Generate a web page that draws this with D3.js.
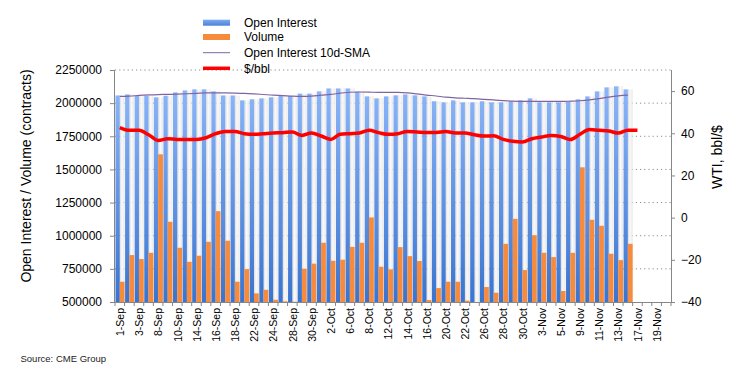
<!DOCTYPE html>
<html>
<head>
<meta charset="utf-8">
<script src="https://cdn.jsdelivr.net/npm/d3@7"></script>
<style>
  body { margin: 0; background: #fff; }
  svg { font-family: Arial, "Liberation Sans", sans-serif; }
  .axis path, .axis line { stroke: #868686; }
  .axis text { fill: #000; }
</style>
</head>
<body>
<div id="chart"></div>
<script>
// trading days on the category axis
const dates = ['1-Sep','2-Sep','3-Sep','4-Sep','8-Sep','9-Sep','10-Sep','11-Sep','14-Sep','15-Sep',
  '16-Sep','17-Sep','18-Sep','21-Sep','22-Sep','23-Sep','24-Sep','25-Sep','28-Sep','29-Sep',
  '30-Sep','1-Oct','2-Oct','5-Oct','6-Oct','7-Oct','8-Oct','9-Oct','12-Oct','13-Oct',
  '14-Oct','15-Oct','16-Oct','19-Oct','20-Oct','21-Oct','22-Oct','23-Oct','26-Oct','27-Oct',
  '28-Oct','29-Oct','30-Oct','2-Nov','3-Nov','4-Nov','5-Nov','6-Nov','9-Nov','10-Nov',
  '11-Nov','12-Nov','13-Nov','16-Nov','17-Nov','18-Nov','19-Nov','20-Nov'];

// open interest (thousand contracts)
const openInterest = [2058,2066,2056,2056,2044,2056,2081,2096,2104,2104,
  2089,2058,2058,2021,2029,2036,2044,2054,2054,2072,
  2072,2089,2111,2111,2111,2087,2051,2036,2051,2059,
  2066,2059,2051,2014,2006,2021,2006,2006,2014,2006,
  2006,2014,2021,2036,2006,2006,2006,2014,2029,2051,
  2089,2119,2127,2104];

// volume (thousand contracts)
const volume = [653,854,824,871,1614,1105,909,803,849,954,
  1185,962,653,748,565,592,517,505,502,751,
  789,947,811,819,916,947,1138,766,746,914,
  846,809,515,605,653,653,510,500,613,570,
  939,1127,741,1004,871,839,583,871,1516,1120,
  1075,864,816,939];

// open interest 10d SMA (thousand contracts)
const oiSma = [2051,2053,2058,2062,2065,2066,2068,2071,2074,2077,
  2077,2077,2076,2074,2070,2065,2060,2057,2053,2051,
  2053,2060,2066,2075,2082,2084,2083,2081,2081,2081,
  2078,2070,2061,2054,2045,2040,2037,2034,2029,2024,
  2019,2015,2013,2013,2013,2013,2013,2015,2018,2024,
  2034,2046,2055,2060];

// WTI $/bbl
const price = [42.7,41.4,41.4,39.3,36.6,37.4,37.1,37.1,37.1,37.9,
  39.8,40.9,40.9,39.8,39.5,39.8,40.1,40.3,40.6,39.0,
  40.1,38.7,37.1,39.5,39.8,40.1,41.4,40.3,39.5,39.8,
  40.8,40.6,40.4,40.4,40.8,40.1,40.1,39.3,38.7,38.8,
  37.1,36.2,35.9,37.4,38.2,39.0,38.5,37.0,39.5,41.8,
  41.4,41.1,40.1,41.4,41.4];

const leftTicks = [500000,750000,1000000,1250000,1500000,1750000,2000000,2250000];
const rightTicks = [-40,-20,0,20,40,60];

const W = 737, H = 377;
const plot = { left: 115, right: 671, top: 70, bottom: 302 };

const svg = d3.select('#chart').append('svg')
  .attr('width', W)
  .attr('height', H);

const defs = svg.append('defs');
const blueGrad = defs.append('linearGradient')
  .attr('id', 'blueGrad')
  .attr('gradientUnits', 'userSpaceOnUse')
  .attr('x1', 0).attr('y1', plot.top).attr('x2', 0).attr('y2', plot.bottom);
blueGrad.append('stop').attr('offset', '0%').attr('stop-color', '#93bbfb');
blueGrad.append('stop').attr('offset', '100%').attr('stop-color', '#3a74cf');

const shadeGrad = defs.append('linearGradient')
  .attr('id', 'shadeGrad')
  .attr('x1', 0).attr('y1', 0).attr('x2', 1).attr('y2', 0);
shadeGrad.append('stop').attr('offset', '0%').attr('stop-color', '#d6d6d6');
shadeGrad.append('stop').attr('offset', '45%').attr('stop-color', '#f9f9f9');
shadeGrad.append('stop').attr('offset', '100%').attr('stop-color', '#e4e4e4');

const legGrad = defs.append('linearGradient')
  .attr('id', 'legGrad')
  .attr('x1', 0).attr('y1', 0).attr('x2', 0).attr('y2', 1);
legGrad.append('stop').attr('offset', '0%').attr('stop-color', '#7fabf4');
legGrad.append('stop').attr('offset', '100%').attr('stop-color', '#4a82d8');

// scales
const x = d3.scaleBand()
  .domain(dates)
  .range([plot.left, plot.right])
  .padding(0);

const y = d3.scaleLinear()
  .domain([500000, 2250000])
  .range([plot.bottom, plot.top]);

const y2 = d3.scaleLinear()
  .domain([-40, 70])
  .range([plot.bottom, plot.top]);

const bw = x.bandwidth();

// gridlines
svg.append('g')
  .selectAll('line')
  .data(leftTicks.slice(1))
  .join('line')
  .attr('x1', plot.left)
  .attr('x2', plot.right)
  .attr('y1', d => y(d))
  .attr('y2', d => y(d))
  .attr('stroke', '#8c8c8c')
  .attr('stroke-width', 1)
  .attr('stroke-dasharray', '1.2,3');

const oiData = openInterest.map((v, i) => ({ date: dates[i], oi: v * 1000, vol: volume[i] * 1000 }));

// shaded strip behind volume bars
svg.append('g')
  .selectAll('rect')
  .data(oiData)
  .join('rect')
  .attr('x', d => x(d.date) + bw / 2)
  .attr('width', bw / 2)
  .attr('y', d => y(d.oi))
  .attr('height', d => y(500000) - y(d.oi))
  .attr('fill', 'url(#shadeGrad)')
  .attr('opacity', 0.85);

// open interest bars
svg.append('g')
  .selectAll('rect')
  .data(oiData)
  .join('rect')
  .attr('x', d => x(d.date) + 0.5)
  .attr('width', bw / 2 - 0.5)
  .attr('y', d => y(d.oi))
  .attr('height', d => y(500000) - y(d.oi))
  .attr('fill', 'url(#blueGrad)');

// volume bars
svg.append('g')
  .selectAll('rect')
  .data(oiData)
  .join('rect')
  .attr('x', d => x(d.date) + bw / 2)
  .attr('width', bw / 2)
  .attr('y', d => y(Math.max(d.vol, 500000)))
  .attr('height', d => y(500000) - y(Math.max(d.vol, 500000)))
  .attr('fill', '#f78b3d');

// SMA line
const smaLine = d3.line()
  .x((d, i) => x(dates[i]) + bw / 2)
  .y(d => y(d * 1000))
  .curve(d3.curveMonotoneX);

svg.append('path')
  .datum(oiSma)
  .attr('fill', 'none')
  .attr('stroke', '#8064a2')
  .attr('stroke-width', 1.2)
  .attr('d', smaLine);

// price line
const priceLine = d3.line()
  .x((d, i) => x(dates[i]) + bw / 2)
  .y(d => y2(d))
  .curve(d3.curveMonotoneX);

svg.append('path')
  .datum(price)
  .attr('fill', 'none')
  .attr('stroke', '#ff0000')
  .attr('stroke-width', 3.5)
  .attr('stroke-linejoin', 'round')
  .attr('d', priceLine);

// left axis
const yAxis = d3.axisLeft(y)
  .tickValues(leftTicks)
  .tickFormat(d3.format('d'))
  .tickSize(5)
  .tickPadding(8);

svg.append('g')
  .attr('class', 'axis')
  .attr('transform', `translate(${plot.left},0)`)
  .call(yAxis)
  .call(g => g.select('.domain').attr('d', `M-0.5,${plot.top}V${plot.bottom}`))
  .selectAll('text')
  .style('font-size', '12px');

// right axis
const y2Axis = d3.axisRight(y2)
  .tickValues(rightTicks)
  .tickSize(4)
  .tickPadding(6);

svg.append('g')
  .attr('class', 'axis')
  .attr('transform', `translate(${plot.right},0)`)
  .call(y2Axis)
  .call(g => g.select('.domain').attr('d', `M0.5,${plot.top}V${plot.bottom}`))
  .selectAll('text')
  .style('font-size', '12px');

// x axis line and ticks at category boundaries
const xg = svg.append('g').attr('class', 'axis');
xg.append('line')
  .attr('x1', plot.left).attr('x2', plot.right)
  .attr('y1', plot.bottom + 0.5).attr('y2', plot.bottom + 0.5);
xg.selectAll('.xtick')
  .data(dates.concat(['end']))
  .join('line')
  .attr('class', 'xtick')
  .attr('x1', (d, i) => plot.left + i * bw)
  .attr('x2', (d, i) => plot.left + i * bw)
  .attr('y1', plot.bottom)
  .attr('y2', plot.bottom + 4);

xg.selectAll('.xlabel')
  .data(dates.filter((d, i) => i % 2 === 0))
  .join('text')
  .attr('class', 'xlabel')
  .attr('transform', d => `translate(${x(d) + bw / 2 + 4.2},${plot.bottom + 6}) rotate(-90)`)
  .attr('text-anchor', 'end')
  .style('font-size', '10.5px')
  .text(d => d);

// axis titles
svg.append('text')
  .attr('transform', 'translate(31,176) rotate(-90)')
  .attr('text-anchor', 'middle')
  .style('font-size', '14px')
  .text('Open Interest / Volume (contracts)');

svg.append('text')
  .attr('transform', 'translate(722,157) rotate(-90)')
  .attr('text-anchor', 'middle')
  .style('font-size', '14px')
  .text('WTI, bbl/$');

// legend
const legendItems = ['Open Interest', 'Volume', 'Open Interest 10d-SMA', '$/bbl'];
const legendY = [22.7, 37, 52.7, 68.3];
const legend = svg.selectAll('.legend')
  .data(legendItems)
  .join('g')
  .attr('class', 'legend')
  .attr('transform', (d, i) => `translate(203,${legendY[i]})`);

legend.each(function(d, i) {
  const g = d3.select(this);
  if (i === 0) {
    g.append('rect').attr('x', 0).attr('y', -3).attr('width', 27).attr('height', 6).attr('fill', 'url(#legGrad)');
  } else if (i === 1) {
    g.append('rect').attr('x', 0).attr('y', -3).attr('width', 27).attr('height', 6).attr('fill', '#f78b3d');
  } else if (i === 2) {
    g.append('line').attr('x1', 0).attr('x2', 27).attr('y1', 0).attr('y2', 0)
      .attr('stroke', '#8064a2').attr('stroke-width', 1);
  } else {
    g.append('line').attr('x1', 0).attr('x2', 27).attr('y1', 0).attr('y2', 0)
      .attr('stroke', '#ff0000').attr('stroke-width', 3.5);
  }
});

legend.append('text')
  .attr('x', 41)
  .attr('y', 4.3)
  .style('font-size', '12px')
  .text(d => d);

// source
svg.append('text')
  .attr('x', 20.5)
  .attr('y', 361.5)
  .style('font-size', '9.5px')
  .attr('fill', '#222')
  .text('Source: CME Group');
</script>
</body>
</html>
